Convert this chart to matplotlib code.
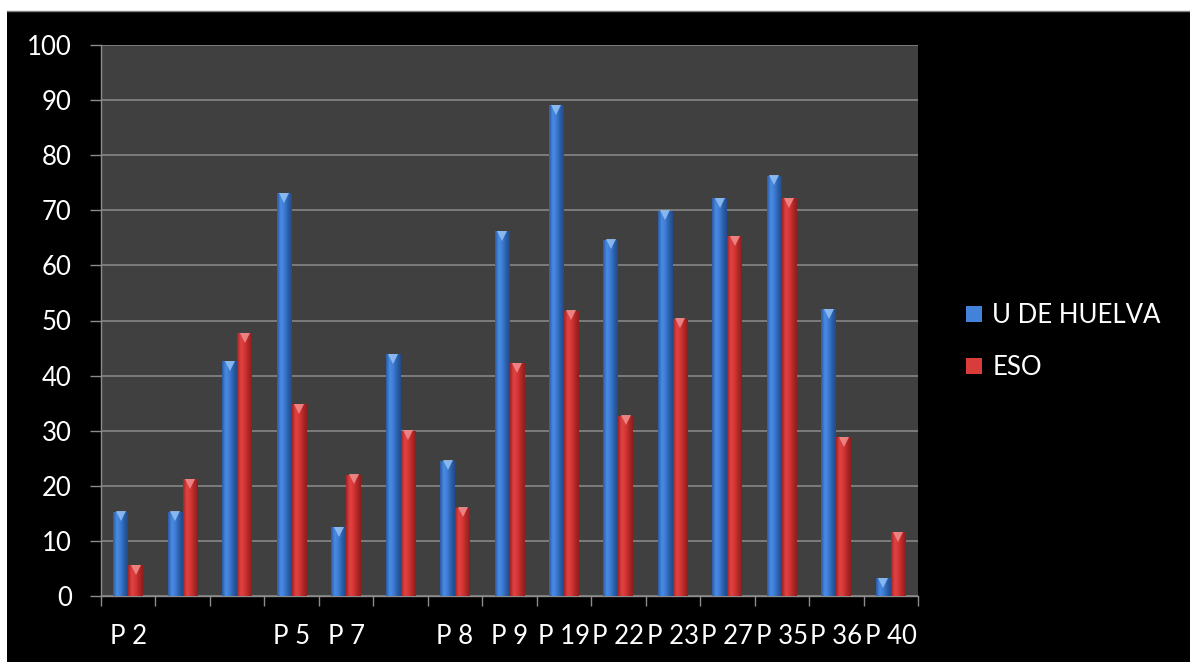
import matplotlib
matplotlib.use("Agg")
import matplotlib.pyplot as plt
import numpy as np
from matplotlib.colors import LinearSegmentedColormap
from matplotlib.patches import Rectangle
from matplotlib.lines import Line2D
import matplotlib.transforms as mtransforms

categories = ["P 2", "", "", "P 5", "P 7", "", "P 8", "P 9", "P 19", "P 22",
              "P 23", "P 27", "P 35", "P 36", "P 40"]
u_huelva = [15.3, 15.3, 42.6, 73.1, 12.5, 43.9, 24.5, 66.2, 89.1, 64.6,
            69.9, 72.2, 76.3, 52.0, 3.2]
eso = [5.6, 21.2, 47.7, 34.8, 22.0, 30.0, 16.0, 42.2, 51.8, 32.7,
       50.3, 65.3, 72.2, 28.8, 11.6]
series_names = ["U DE HUELVA", "ESO"]
y_ticks = [0, 10, 20, 30, 40, 50, 60, 70, 80, 90, 100]

plt.rcParams['font.family'] = ['Lato', 'DejaVu Sans']

W, H = 1190, 662
fig = plt.figure(figsize=(W / 100, H / 100), dpi=100, facecolor="white")
fig.patches.append(Rectangle((7 / W, -0.01), 1.02 - 7 / W, 1.01 - 11 / H,
                             transform=fig.transFigure, facecolor="black",
                             edgecolor="none", zorder=-5))
fig.lines.append(Line2D([7 / W, 1], [1 - 11 / H, 1 - 11 / H],
                        transform=fig.transFigure, color="#808080",
                        linewidth=1, zorder=-4))

ax = fig.add_axes([101 / W, 1 - 596 / H, (918 - 101) / W, (596 - 45) / H])
ax.set_facecolor("#404040")

x = np.arange(len(categories))
bw = 0.275

blue_cmap = LinearSegmentedColormap.from_list(
    "b", ["#2a5aa2", "#4a8ce4", "#3d7cd4", "#2b5fa8", "#22498a"])
red_cmap = LinearSegmentedColormap.from_list(
    "r", ["#a52222", "#e24444", "#d53636", "#b22828", "#8e1c1c"])

grad = np.linspace(0, 1, 64).reshape(1, -1)

def draw_series(vals, offset, cmap, tipcolor, label):
    bars = ax.bar(x + offset, vals, width=bw, color=cmap(0.4), label=label,
                  zorder=3, linewidth=0)
    for b in bars:
        x0, w, h = b.get_x(), b.get_width(), b.get_height()
        im = ax.imshow(grad, cmap=cmap, aspect="auto",
                       extent=(x0, x0 + w, 0, h), zorder=3.5,
                       interpolation="bicubic")
        im.set_clip_path(b)
    tr = mtransforms.offset_copy(ax.transData, fig=fig, x=0, y=-3.2,
                                 units="points")
    ax.plot(x + offset, vals, linestyle="none", marker="v", markersize=7.5,
            color=tipcolor, markeredgewidth=0, transform=tr, zorder=4,
            alpha=0.9)
    return bars

draw_series(u_huelva, -bw / 2, blue_cmap, "#8fbef2", series_names[0])
draw_series(eso, bw / 2, red_cmap, "#f08a8a", series_names[1])

ax.set_xlim(-0.5, len(categories) - 0.5)
ax.set_ylim(0, 100)
ax.set_yticks(y_ticks)
ax.set_yticklabels([str(v) for v in y_ticks])
ax.yaxis.grid(True, color="#8c8c8c", linewidth=1.1, zorder=1)
ax.set_axisbelow(True)

ax.set_xticks(x)
ax.set_xticklabels(categories)
ax.set_xticks(np.arange(-0.5, len(categories), 1.0), minor=True)
ax.tick_params(axis="x", which="major", length=0, pad=20, labelsize=18.5,
               colors="white")
ax.tick_params(axis="x", which="minor", length=7, width=1, color="#8c8c8c",
               direction="out")
ax.tick_params(axis="y", length=8, width=1, color="#8c8c8c", pad=13,
               labelsize=18.5, labelcolor="white")

for s in ["top", "right"]:
    ax.spines[s].set_visible(False)
for s in ["left", "bottom"]:
    ax.spines[s].set_color("#8c8c8c")
    ax.spines[s].set_linewidth(1)

leg = fig.legend(loc="center left", bbox_to_anchor=(966 / W, 1 - 341.5 / H),
                 frameon=False, fontsize=18.5, handlelength=0.62,
                 handleheight=0.62, handletextpad=0.4, labelspacing=1.05,
                 borderpad=0, borderaxespad=0)
for t in leg.get_texts():
    t.set_color("white")

fig.savefig("out.png", dpi=100, facecolor=fig.get_facecolor())
